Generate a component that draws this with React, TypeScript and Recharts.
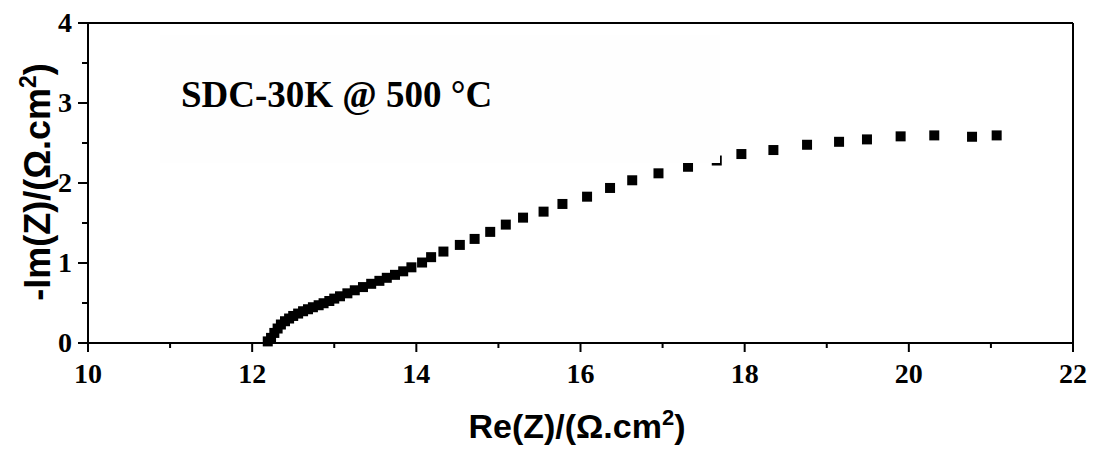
import React from "react";
import {
  ScatterChart,
  Scatter,
  XAxis,
  YAxis,
  ReferenceLine,
} from "recharts";

// Nyquist plot, SDC-30K at 500 °C
const reZ = [
  12.19, 12.23, 12.27, 12.31, 12.35, 12.4, 12.45, 12.5, 12.56, 12.62, 12.68,
  12.74, 12.81, 12.87, 12.94, 13.0, 13.07, 13.16, 13.25, 13.35, 13.45, 13.55,
  13.64, 13.74, 13.84, 13.94, 14.07, 14.18, 14.33, 14.53, 14.71, 14.9, 15.09,
  15.3, 15.55, 15.78, 16.08, 16.36, 16.63, 16.95, 17.31, 17.66, 17.96, 18.35,
  18.76, 19.15, 19.49, 19.9, 20.31, 20.77, 21.07,
];
const negImZ = [
  0.02, 0.064, 0.126, 0.181, 0.231, 0.272, 0.306, 0.338, 0.368, 0.397, 0.422,
  0.447, 0.472, 0.497, 0.525, 0.555, 0.584, 0.621, 0.659, 0.699, 0.74, 0.777,
  0.815, 0.852, 0.896, 0.946, 1.006, 1.073, 1.143, 1.226, 1.301, 1.389, 1.48,
  1.567, 1.642, 1.738, 1.829, 1.938, 2.034, 2.121, 2.203, 2.281, 2.362, 2.412,
  2.478, 2.515, 2.545, 2.583, 2.595, 2.578, 2.595,
];

const xTicks = [10, 11, 12, 13, 14, 15, 16, 17, 18, 19, 20, 21, 22];
const yTicks = [0, 0.5, 1, 1.5, 2, 2.5, 3, 3.5, 4];

const data = reZ.map((re, i) => ({ re, im: negImZ[i] }));

const SERIF = "'Times New Roman', 'Liberation Serif', serif";
const SANS = "Arial, 'Liberation Sans', sans-serif";

const SquareDot = (props: any) => {
  const { cx, cy } = props;
  const s = 10;
  return <rect x={cx - s / 2} y={cy - s / 2} width={s} height={s} fill="#000" />;
};

const XTick = ({ x, y, payload }: any) => {
  const major = payload.value % 2 === 0;
  return (
    <g>
      <line x1={x} x2={x} y1={y} y2={y + (major ? 9 : 5)} stroke="#000" strokeWidth={2} />
      {major && (
        <text x={x} y={y + 40} textAnchor="middle" fontFamily={SERIF} fontWeight="bold" fontSize={28} fill="#000">
          {payload.value}
        </text>
      )}
    </g>
  );
};

const YTick = ({ x, y, payload }: any) => {
  const major = Number.isInteger(payload.value);
  return (
    <g>
      <line x1={x - (major ? 10 : 6)} x2={x} y1={y} y2={y} stroke="#000" strokeWidth={2} />
      {major && (
        <text x={x - 16} y={y + 9} textAnchor="end" fontFamily={SERIF} fontWeight="bold" fontSize={28} fill="#000">
          {payload.value}
        </text>
      )}
    </g>
  );
};

export default function App() {
  return (
    <div style={{ position: "absolute", left: 0, top: 0, width: 1096, height: 453, background: "#fff" }}>
      <ScatterChart width={1096} height={453} margin={{ top: 23, right: 23, bottom: 0, left: 0 }}>
        <XAxis
          type="number"
          dataKey="re"
          domain={[10, 22]}
          ticks={xTicks}
          interval={0}
          height={110}
          tickSize={0}
          tickMargin={0}
          tick={<XTick />}
          axisLine={{ stroke: "#000", strokeWidth: 2 }}
        />
        <YAxis
          type="number"
          dataKey="im"
          domain={[0, 4]}
          ticks={yTicks}
          interval={0}
          width={88}
          tickSize={0}
          tickMargin={0}
          tick={<YTick />}
          axisLine={{ stroke: "#000", strokeWidth: 2 }}
        />
        <ReferenceLine y={4} stroke="#000" strokeWidth={2} />
        <ReferenceLine x={22} stroke="#000" strokeWidth={2} />
        <Scatter data={data} shape={<SquareDot />} isAnimationActive={false} />
      </ScatterChart>

      {/* title box and axis titles */}
      <svg width={1096} height={453} style={{ position: "absolute", left: 0, top: 0, pointerEvents: "none" }}>
        <rect x={160} y={35} width={560} height={128} fill="#fefefe" />
        <text x={181} y={107} fontFamily={SERIF} fontWeight="bold" fontSize={37} fill="#000">
          SDC-30K @ 500 °C
        </text>
        <text x={577} y={438} textAnchor="middle" fontFamily={SANS} fontWeight="bold" fontSize={34} fill="#000">
          Re(Z)/(Ω.cm
          <tspan dy={-13} fontSize={22}>2</tspan>
          <tspan dy={13}>)</tspan>
        </text>
        <text
          x={50}
          y={182}
          transform="rotate(-90, 50, 182)"
          textAnchor="middle"
          fontFamily={SANS}
          fontWeight="bold"
          fontSize={36}
          fill="#000"
        >
          -Im(Z)/(Ω.cm
          <tspan dy={-14} fontSize={23}>2</tspan>
          <tspan dy={14}>)</tspan>
        </text>
      </svg>
    </div>
  );
}
